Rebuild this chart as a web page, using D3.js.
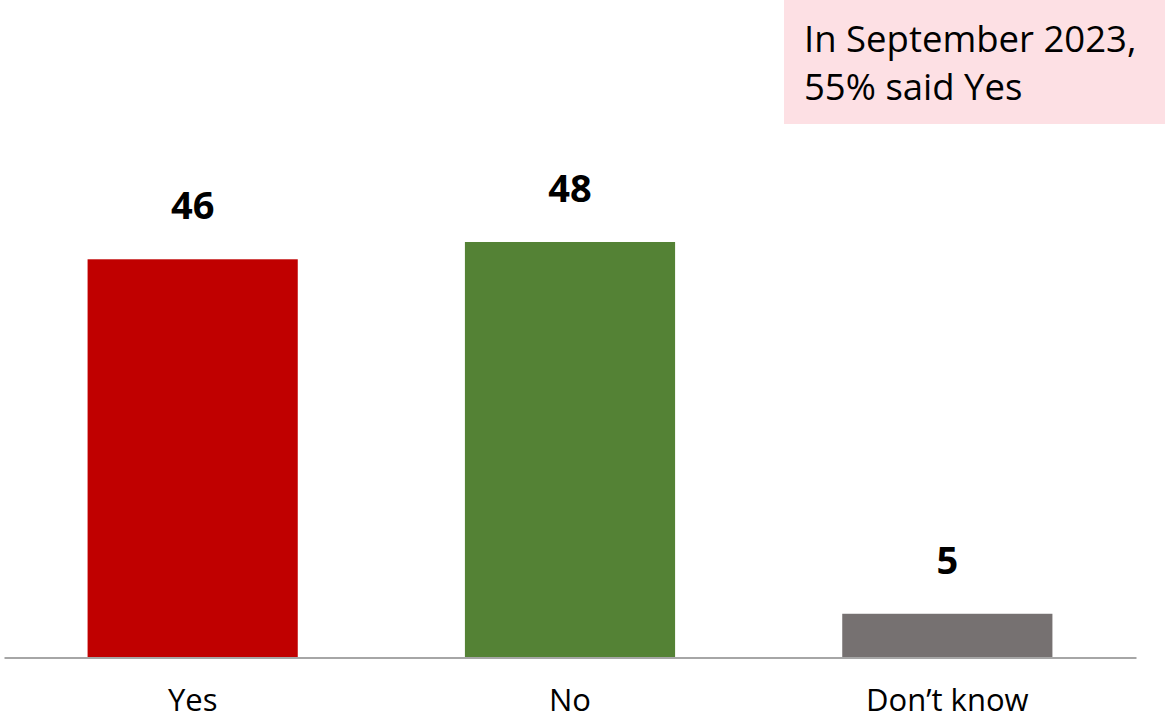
<!DOCTYPE html>
<html><head><meta charset="utf-8">
<script src="https://cdn.jsdelivr.net/npm/d3@7"></script>
<style>html,body{margin:0;padding:0;background:#fff;}svg{display:block;}</style>
</head><body>
<svg id="chart" width="1165" height="721"></svg>
<script>
const categories = ["Yes", "No", "Don\u2019t know"];
const values = [46, 48, 5];
const colors = ["#C00000", "#548235", "#767171"];
const noteLines = ["In September 2023,", "55% said Yes"];

const svg = d3.select("#chart");
const font = "'Open Sans', 'Noto Sans', sans-serif";
const x = d3.scaleBand().domain(categories).range([4, 1136]).paddingInner(0.443).paddingOuter(0.2215);
const y = d3.scaleLinear().domain([0, 48]).range([657, 242]);

svg.append("rect").attr("x", 784).attr("y", 0).attr("width", 381).attr("height", 124).attr("fill", "#FDE0E4");
svg.selectAll("text.note").data(noteLines).enter().append("text")
  .attr("x", 804).attr("y", (d, i) => 52 + i * 48)
  .attr("font-family", font).attr("font-size", 36.5).attr("fill", "#000").text(d => d);

svg.selectAll("rect.bar").data(categories).enter().append("rect")
  .attr("x", d => x(d)).attr("width", x.bandwidth())
  .attr("y", (d, i) => y(values[i])).attr("height", (d, i) => y(0) - y(values[i]))
  .attr("fill", (d, i) => colors[i]);

svg.selectAll("text.val").data(categories).enter().append("text")
  .attr("x", d => x(d) + x.bandwidth() / 2).attr("y", (d, i) => y(values[i]) - 40)
  .attr("text-anchor", "middle").attr("font-family", font).attr("font-weight", "bold")
  .attr("font-size", 38).attr("fill", "#000").text((d, i) => values[i]);

const axis = d3.axisBottom(x).tickSize(0).tickPadding(31);
const g = svg.append("g").attr("transform", "translate(0,657.5)").call(axis);
g.select(".domain").attr("stroke", "#A6A6A6").attr("stroke-width", 2);
g.selectAll("text").attr("font-family", font).attr("font-size", 31).attr("fill", "#000");
</script>
</body></html>
